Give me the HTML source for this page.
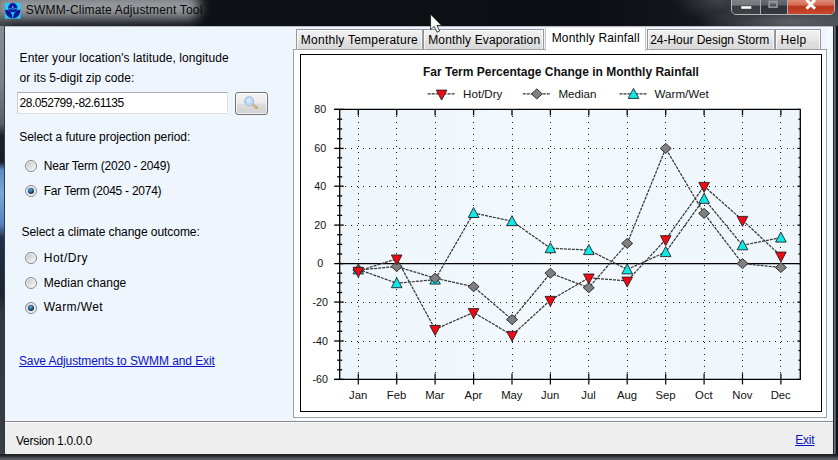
<!DOCTYPE html>
<html><head><meta charset="utf-8"><title>SWMM-Climate Adjustment Tool</title>
<style>
html,body{margin:0;padding:0;}
body{width:838px;height:460px;overflow:hidden;position:relative;background:#0e1116;font-family:"Liberation Sans",sans-serif;font-size:11.5px;color:#000;}
.abs{position:absolute;}
#frame{left:0;top:0;width:838px;height:460px;background:linear-gradient(90deg,#15181d 0,#15181d 833px,#20242a 833px,#20242a 834px,#6c7074 834.3px,#6c7074 835.3px,#0e1216 836px,#0e1216 838px)}
#lstrip{left:0;top:24px;width:4.2px;height:432px;background:linear-gradient(#8a8e93 0,#7c8086 60px,#5a5e64 100px,#1c2026 112px,#1a1e24 138px,#5d8cc6 146px,#79a7d8 170px,#5a80c0 200px,#223048 214px,#1c2430 270px,#34383e 290px,#3a3e44 432px)}
#lstrip2{left:4.2px;top:24px;width:0.9px;height:432px;background:#2a3a4c}
#titlebar{left:0;top:0;width:838px;height:26px;background:linear-gradient(90deg,#3a3f44 0,#1a1d22 14px,#0d1015 220px,#0c0f14 600px,#14171b 700px,#3a3e42 838px)}
#bottom{left:0;top:454px;width:838px;height:6px;background:linear-gradient(#1a1d21 0,#24282c 2px,#52565b 4px,#5a5e63 6px)}
#glow{left:-6px;top:-6px;width:206px;height:25px;border-radius:12px;background:#96999d;filter:blur(6px);}
#client{left:5px;top:26.4px;width:828px;height:427.6px;background:#eef5fd;border-top:1px solid #b9bdc3;box-sizing:border-box}
#status{left:5px;top:421px;width:828px;height:33px;background:#eeeeee;border-top:1px solid #868a90;box-sizing:border-box;box-shadow:inset 0 1px 0 #fafafa}
.t{position:absolute;white-space:nowrap;color:#000;line-height:16px;height:16px}
a.t{color:#0a14c4;text-decoration:underline;text-underline-offset:1px}
.tab{position:absolute;top:29px;height:21px;box-sizing:border-box;border:1px solid #95989e;border-bottom:none;background:linear-gradient(#f1f1f1 0%,#e9e9e9 45%,#dfdfdf 60%,#d8d8d8 100%);box-shadow:inset 1px 1px 0 rgba(255,255,255,.75),inset -1px 0 0 rgba(255,255,255,.75)}
.tab.sel{top:27px;height:24px;background:#fff;z-index:3;box-shadow:none;border-color:#eceef2 #c4c8ce #fff #c4c8ce}
#page{left:293px;top:49px;width:533.8px;height:368.6px;background:#fff;border:1px solid #9da1a8;box-sizing:border-box}
#chart{left:300px;top:54px;width:522px;height:358px;background:#fff;border:1.3px solid #000;box-sizing:border-box}
.ax{font-family:"Liberation Sans",sans-serif;font-size:10.7px;fill:#111}
.lg{font-family:"Liberation Sans",sans-serif;font-size:11.6px;fill:#111}
.tt{font-family:"Liberation Sans",sans-serif;font-size:12px;font-weight:bold;fill:#111}
.radio{position:absolute;width:12px;height:12px;border-radius:50%;border:1px solid #858990;box-sizing:border-box;background:linear-gradient(135deg,#b4b8bc 0%,#dcdee0 45%,#fafafa 100%);box-shadow:inset 0 0 0 1px #f4f5f6}
.radio.on::after{content:"";position:absolute;left:2px;top:2px;width:6px;height:6px;border-radius:50%;background:radial-gradient(circle at 42% 36%,#62b4dc 0,#2a6c9c 35%,#0e2440 75%)}
#inp{left:17px;top:91.5px;width:210.5px;height:22.5px;background:#fff;border:1px solid #dde1e8;border-top-color:#a9adb6;border-left-color:#c8ccd4;box-sizing:border-box}
#btn{left:235px;top:92px;width:33px;height:23px;border:1px solid #70747a;border-radius:3px;box-sizing:border-box;background:linear-gradient(#f3f3f3 0%,#ebebeb 48%,#dddddd 52%,#d1d1d1 100%);box-shadow:inset 0 0 0 1px rgba(255,255,255,.7)}
#caps{left:730.5px;top:-4px;width:104px;height:19px;border:1px solid #b4b8bc;border-radius:0 0 5px 5px;box-sizing:border-box;overflow:hidden;background:#444}
#caps div{position:absolute;top:0;height:18px}
</style></head><body>
<div class="abs" id="frame"></div>
<div class="abs" id="lstrip"></div><div class="abs" id="lstrip2"></div>
<div class="abs" id="titlebar"></div>
<div class="abs" id="bottom"></div>
<div class="abs" style="left:640px;top:0;width:198px;height:26px;background:radial-gradient(ellipse 95px 16px at 150px 22px,rgba(130,135,140,.55),rgba(130,135,140,0) 100%),radial-gradient(ellipse 45px 22px at 78px 0px,rgba(120,125,130,.4),rgba(120,125,130,0) 100%)"></div>
<div class="abs" id="glow"></div>
<svg class="abs" style="left:5px;top:3.3px" width="15.6" height="15.6" viewBox="0 0 16 16"><rect width="16" height="16" fill="#1fd0fb"/><circle cx="8" cy="4.8" r="4.75" fill="#0a179c"/><path d="M0.2 7C4.2 6.5 7.6 9.8 7.65 15.6C3.4 15.8 0.2 12.2 0.2 7Z" fill="#0a179c"/><path d="M15.8 7C11.8 6.5 8.4 9.8 8.35 15.6C12.6 15.8 15.8 12.2 15.8 7Z" fill="#0a179c"/><path d="M3.9 5.5Q8 7.3 12.1 5.5" stroke="#48b4ee" stroke-width="0.9" fill="none"/><path d="M8 2.6L7 4.8H9Z" fill="#7fd4f8"/></svg>
<div class="t" style="left:25.8px;top:2.34px;font-size:12px;letter-spacing:0.173px;color:#0a0a0a;">SWMM-Climate Adjustment Tool</div>
<div class="abs" id="caps">
 <div style="left:0;width:28px;background:linear-gradient(#84888c 0,#74787c 44%,#383c40 52%,#3f4347 100%);border-right:1px solid #a9adb1"></div>
 <div style="left:29px;width:26.5px;background:linear-gradient(#6c7074 0,#5d6165 44%,#2f3337 50%,#373b3f 100%);border-right:1px solid #a9adb1"></div>
 <div style="left:56.5px;width:47px;background:linear-gradient(#e3a08e 0,#d46a52 44%,#b8341c 54%,#cc4c30 100%)"></div>
</div>
<svg class="abs" style="left:730px;top:0" width="108" height="16" viewBox="0 0 108 16"><rect x="11" y="6" width="10.5" height="3" fill="#fff" stroke="#444" stroke-width=".5"/><path d="M38.2 0.6H47.8V8H38.2ZM40 3.2V6.3H46V3.2Z" fill="#8f9397" fill-rule="evenodd"/><path d="M76.5 0L80.7 4.2L85 0M76.5 8.8L80.7 4.6L85 8.8" stroke="#fff" stroke-width="3" fill="none"/></svg>
<div class="abs" id="client"></div>
<div class="abs" style="left:293px;top:417.5px;width:540px;height:4px;background:#f6fafe"></div><div class="abs" style="left:827px;top:27.4px;width:6px;height:394px;background:#f4f9fd"></div>
<div class="abs" id="status"></div>
<div class="t" style="left:19.6px;top:50.14px;font-size:12px;letter-spacing:0.081px;">Enter your location's latitude, longitude</div>
<div class="t" style="left:19.6px;top:69.94px;font-size:12px;letter-spacing:0.057px;">or its 5-digit zip code:</div>
<div class="abs" id="inp"></div>
<div class="t" style="left:19.6px;top:94.84px;font-size:12px;letter-spacing:-0.479px;">28.052799,-82.61135</div>
<div class="abs" id="btn"></div>
<svg class="abs" style="left:240px;top:94px" width="24" height="20" viewBox="0 0 24 20"><path d="M12.4 10L16.4 13.8" stroke="#c49a5a" stroke-width="2.6" stroke-linecap="round"/><path d="M12.8 10.4L16.2 13.6" stroke="#f0dcb8" stroke-width="1" stroke-linecap="round"/><circle cx="9.2" cy="7.2" r="4.5" fill="#bcd6f6" stroke="#a9bedb" stroke-width="1.1"/><circle cx="8.6" cy="6.4" r="2.2" fill="#d4e6fb"/></svg>
<div class="t" style="left:19.2px;top:129.14px;font-size:12px;letter-spacing:-0.051px;">Select a future projection period:</div>
<div class="radio" style="left:24.7px;top:160.4px"></div>
<div class="t" style="left:43.8px;top:157.74px;font-size:12px;letter-spacing:-0.218px;">Near Term (2020 - 2049)</div>
<div class="radio on" style="left:24.7px;top:184.8px"></div>
<div class="t" style="left:43.8px;top:182.54px;font-size:12px;letter-spacing:-0.256px;">Far Term (2045 - 2074)</div>
<div class="t" style="left:21.5px;top:223.84px;font-size:12px;letter-spacing:-0.058px;">Select a climate change outcome:</div>
<div class="radio" style="left:24.5px;top:251.8px"></div>
<div class="t" style="left:43.8px;top:249.54px;font-size:12px;letter-spacing:0.488px;">Hot/Dry</div>
<div class="radio" style="left:24.5px;top:277.2px"></div>
<div class="t" style="left:43.8px;top:274.54px;font-size:12px;letter-spacing:0.036px;">Median change</div>
<div class="radio on" style="left:24.5px;top:302.2px"></div>
<div class="t" style="left:43.8px;top:299.14px;font-size:12px;letter-spacing:0.414px;">Warm/Wet</div>
<a class="t" style="left:18.9px;top:352.64px;font-size:12px;letter-spacing:-0.086px;">Save Adjustments to SWMM and Exit</a>
<div class="t" style="left:16.0px;top:432.74px;font-size:12px;letter-spacing:-0.283px;">Version 1.0.0.0</div>
<a class="t" style="left:795.2px;top:431.64px;font-size:12px;letter-spacing:-0.205px;">Exit</a>
<div class="tab" style="left:295.5px;width:127.5px"></div>
<div class="tab" style="left:423px;width:121px"></div>
<div class="tab sel" style="left:545px;width:100.5px"></div>
<div class="tab" style="left:646.5px;width:128px"></div>
<div class="tab" style="left:775px;width:46px"></div>
<div class="abs" id="page"></div>
<div class="abs" style="left:546px;top:48px;width:98.5px;height:3px;background:#fff;z-index:4"></div>
<div class="abs" id="chart"></div>
<div style="position:absolute;left:0;top:0;z-index:5">
<div class="t" style="left:300.8px;top:31.74px;font-size:12px;letter-spacing:0.250px;">Monthly Temperature</div>
<div class="t" style="left:428.2px;top:31.74px;font-size:12px;letter-spacing:0.139px;">Monthly Evaporation</div>
<div class="t" style="left:551.7px;top:30.24px;font-size:12px;letter-spacing:0.168px;">Monthly Rainfall</div>
<div class="t" style="left:650.2px;top:31.74px;font-size:12px;letter-spacing:-0.021px;">24-Hour Design Storm</div>
<div class="t" style="left:780.6px;top:31.74px;font-size:12px;letter-spacing:0.337px;">Help</div>
</div>
<svg width="838" height="460" viewBox="0 0 838 460" style="position:absolute;left:0;top:0">
<defs><linearGradient id="pg" x1="0" y1="0" x2="1" y2="0"><stop offset="0" stop-color="#eef6fc"/><stop offset="0.5" stop-color="#f3f9fd"/><stop offset="1" stop-color="#eef6fc"/></linearGradient></defs>
<rect x="339.7" y="109.4" width="460.59999999999997" height="270.0" fill="url(#pg)"/>
<line x1="345.07" y1="148.4" x2="800.3" y2="148.4" stroke="#1c1c1c" stroke-width="1" stroke-dasharray="1 4.97" shape-rendering="crispEdges"/>
<line x1="345.07" y1="186.2" x2="800.3" y2="186.2" stroke="#1c1c1c" stroke-width="1" stroke-dasharray="1 4.97" shape-rendering="crispEdges"/>
<line x1="345.07" y1="225.1" x2="800.3" y2="225.1" stroke="#1c1c1c" stroke-width="1" stroke-dasharray="1 4.97" shape-rendering="crispEdges"/>
<line x1="345.07" y1="302.1" x2="800.3" y2="302.1" stroke="#1c1c1c" stroke-width="1" stroke-dasharray="1 4.97" shape-rendering="crispEdges"/>
<line x1="345.07" y1="341.0" x2="800.3" y2="341.0" stroke="#1c1c1c" stroke-width="1" stroke-dasharray="1 4.97" shape-rendering="crispEdges"/>
<line x1="358.3" y1="372.84999999999997" x2="358.3" y2="114.4" stroke="#1c1c1c" stroke-width="1" stroke-dasharray="1 4.95" shape-rendering="crispEdges"/>
<line x1="396.7" y1="372.84999999999997" x2="396.7" y2="114.4" stroke="#1c1c1c" stroke-width="1" stroke-dasharray="1 4.95" shape-rendering="crispEdges"/>
<line x1="435.1" y1="372.84999999999997" x2="435.1" y2="114.4" stroke="#1c1c1c" stroke-width="1" stroke-dasharray="1 4.95" shape-rendering="crispEdges"/>
<line x1="473.6" y1="372.84999999999997" x2="473.6" y2="114.4" stroke="#1c1c1c" stroke-width="1" stroke-dasharray="1 4.95" shape-rendering="crispEdges"/>
<line x1="512.0" y1="372.84999999999997" x2="512.0" y2="114.4" stroke="#1c1c1c" stroke-width="1" stroke-dasharray="1 4.95" shape-rendering="crispEdges"/>
<line x1="550.4" y1="372.84999999999997" x2="550.4" y2="114.4" stroke="#1c1c1c" stroke-width="1" stroke-dasharray="1 4.95" shape-rendering="crispEdges"/>
<line x1="588.8" y1="372.84999999999997" x2="588.8" y2="114.4" stroke="#1c1c1c" stroke-width="1" stroke-dasharray="1 4.95" shape-rendering="crispEdges"/>
<line x1="627.2" y1="372.84999999999997" x2="627.2" y2="114.4" stroke="#1c1c1c" stroke-width="1" stroke-dasharray="1 4.95" shape-rendering="crispEdges"/>
<line x1="665.7" y1="372.84999999999997" x2="665.7" y2="114.4" stroke="#1c1c1c" stroke-width="1" stroke-dasharray="1 4.95" shape-rendering="crispEdges"/>
<line x1="704.1" y1="372.84999999999997" x2="704.1" y2="114.4" stroke="#1c1c1c" stroke-width="1" stroke-dasharray="1 4.95" shape-rendering="crispEdges"/>
<line x1="742.5" y1="372.84999999999997" x2="742.5" y2="114.4" stroke="#1c1c1c" stroke-width="1" stroke-dasharray="1 4.95" shape-rendering="crispEdges"/>
<line x1="780.9" y1="372.84999999999997" x2="780.9" y2="114.4" stroke="#1c1c1c" stroke-width="1" stroke-dasharray="1 4.95" shape-rendering="crispEdges"/>
<path d="M334.2 109.4H800.3V379.4H334.2M339.7 109.4V379.4" fill="none" stroke="#000" stroke-width="1.3"/>
<line x1="339.7" y1="263.6" x2="800.3" y2="263.6" stroke="#000" stroke-width="1.2"/>
<line x1="334.2" y1="109.4" x2="343.7" y2="109.4" stroke="#000" stroke-width="1.3"/>
<line x1="797.3" y1="109.4" x2="800.3" y2="109.4" stroke="#000" stroke-width="1.2"/>
<line x1="337.2" y1="119.2" x2="342.2" y2="119.2" stroke="#000" stroke-width="1.3"/>
<line x1="798.3" y1="119.2" x2="800.3" y2="119.2" stroke="#000" stroke-width="1.1"/>
<line x1="337.2" y1="128.9" x2="342.2" y2="128.9" stroke="#000" stroke-width="1.3"/>
<line x1="798.3" y1="128.9" x2="800.3" y2="128.9" stroke="#000" stroke-width="1.1"/>
<line x1="337.2" y1="138.7" x2="342.2" y2="138.7" stroke="#000" stroke-width="1.3"/>
<line x1="798.3" y1="138.7" x2="800.3" y2="138.7" stroke="#000" stroke-width="1.1"/>
<line x1="334.2" y1="148.4" x2="343.7" y2="148.4" stroke="#000" stroke-width="1.3"/>
<line x1="797.3" y1="148.4" x2="800.3" y2="148.4" stroke="#000" stroke-width="1.2"/>
<line x1="337.2" y1="157.8" x2="342.2" y2="157.8" stroke="#000" stroke-width="1.3"/>
<line x1="798.3" y1="157.8" x2="800.3" y2="157.8" stroke="#000" stroke-width="1.1"/>
<line x1="337.2" y1="167.3" x2="342.2" y2="167.3" stroke="#000" stroke-width="1.3"/>
<line x1="798.3" y1="167.3" x2="800.3" y2="167.3" stroke="#000" stroke-width="1.1"/>
<line x1="337.2" y1="176.8" x2="342.2" y2="176.8" stroke="#000" stroke-width="1.3"/>
<line x1="798.3" y1="176.8" x2="800.3" y2="176.8" stroke="#000" stroke-width="1.1"/>
<line x1="334.2" y1="186.2" x2="343.7" y2="186.2" stroke="#000" stroke-width="1.3"/>
<line x1="797.3" y1="186.2" x2="800.3" y2="186.2" stroke="#000" stroke-width="1.2"/>
<line x1="337.2" y1="195.9" x2="342.2" y2="195.9" stroke="#000" stroke-width="1.3"/>
<line x1="798.3" y1="195.9" x2="800.3" y2="195.9" stroke="#000" stroke-width="1.1"/>
<line x1="337.2" y1="205.6" x2="342.2" y2="205.6" stroke="#000" stroke-width="1.3"/>
<line x1="798.3" y1="205.6" x2="800.3" y2="205.6" stroke="#000" stroke-width="1.1"/>
<line x1="337.2" y1="215.4" x2="342.2" y2="215.4" stroke="#000" stroke-width="1.3"/>
<line x1="798.3" y1="215.4" x2="800.3" y2="215.4" stroke="#000" stroke-width="1.1"/>
<line x1="334.2" y1="225.1" x2="343.7" y2="225.1" stroke="#000" stroke-width="1.3"/>
<line x1="797.3" y1="225.1" x2="800.3" y2="225.1" stroke="#000" stroke-width="1.2"/>
<line x1="337.2" y1="234.7" x2="342.2" y2="234.7" stroke="#000" stroke-width="1.3"/>
<line x1="798.3" y1="234.7" x2="800.3" y2="234.7" stroke="#000" stroke-width="1.1"/>
<line x1="337.2" y1="244.4" x2="342.2" y2="244.4" stroke="#000" stroke-width="1.3"/>
<line x1="798.3" y1="244.4" x2="800.3" y2="244.4" stroke="#000" stroke-width="1.1"/>
<line x1="337.2" y1="254.0" x2="342.2" y2="254.0" stroke="#000" stroke-width="1.3"/>
<line x1="798.3" y1="254.0" x2="800.3" y2="254.0" stroke="#000" stroke-width="1.1"/>
<line x1="334.2" y1="263.6" x2="343.7" y2="263.6" stroke="#000" stroke-width="1.3"/>
<line x1="797.3" y1="263.6" x2="800.3" y2="263.6" stroke="#000" stroke-width="1.2"/>
<line x1="337.2" y1="273.2" x2="342.2" y2="273.2" stroke="#000" stroke-width="1.3"/>
<line x1="798.3" y1="273.2" x2="800.3" y2="273.2" stroke="#000" stroke-width="1.1"/>
<line x1="337.2" y1="282.9" x2="342.2" y2="282.9" stroke="#000" stroke-width="1.3"/>
<line x1="798.3" y1="282.9" x2="800.3" y2="282.9" stroke="#000" stroke-width="1.1"/>
<line x1="337.2" y1="292.5" x2="342.2" y2="292.5" stroke="#000" stroke-width="1.3"/>
<line x1="798.3" y1="292.5" x2="800.3" y2="292.5" stroke="#000" stroke-width="1.1"/>
<line x1="334.2" y1="302.1" x2="343.7" y2="302.1" stroke="#000" stroke-width="1.3"/>
<line x1="797.3" y1="302.1" x2="800.3" y2="302.1" stroke="#000" stroke-width="1.2"/>
<line x1="337.2" y1="311.8" x2="342.2" y2="311.8" stroke="#000" stroke-width="1.3"/>
<line x1="798.3" y1="311.8" x2="800.3" y2="311.8" stroke="#000" stroke-width="1.1"/>
<line x1="337.2" y1="321.6" x2="342.2" y2="321.6" stroke="#000" stroke-width="1.3"/>
<line x1="798.3" y1="321.6" x2="800.3" y2="321.6" stroke="#000" stroke-width="1.1"/>
<line x1="337.2" y1="331.3" x2="342.2" y2="331.3" stroke="#000" stroke-width="1.3"/>
<line x1="798.3" y1="331.3" x2="800.3" y2="331.3" stroke="#000" stroke-width="1.1"/>
<line x1="334.2" y1="341.0" x2="343.7" y2="341.0" stroke="#000" stroke-width="1.3"/>
<line x1="797.3" y1="341.0" x2="800.3" y2="341.0" stroke="#000" stroke-width="1.2"/>
<line x1="337.2" y1="350.6" x2="342.2" y2="350.6" stroke="#000" stroke-width="1.3"/>
<line x1="798.3" y1="350.6" x2="800.3" y2="350.6" stroke="#000" stroke-width="1.1"/>
<line x1="337.2" y1="360.2" x2="342.2" y2="360.2" stroke="#000" stroke-width="1.3"/>
<line x1="798.3" y1="360.2" x2="800.3" y2="360.2" stroke="#000" stroke-width="1.1"/>
<line x1="337.2" y1="369.8" x2="342.2" y2="369.8" stroke="#000" stroke-width="1.3"/>
<line x1="798.3" y1="369.8" x2="800.3" y2="369.8" stroke="#000" stroke-width="1.1"/>
<line x1="334.2" y1="379.4" x2="343.7" y2="379.4" stroke="#000" stroke-width="1.3"/>
<line x1="797.3" y1="379.4" x2="800.3" y2="379.4" stroke="#000" stroke-width="1.2"/>
<line x1="358.3" y1="109.4" x2="358.3" y2="115.4" stroke="#000" stroke-width="1.3"/>
<line x1="358.3" y1="373.4" x2="358.3" y2="384.4" stroke="#000" stroke-width="1.2"/>
<line x1="396.7" y1="109.4" x2="396.7" y2="115.4" stroke="#000" stroke-width="1.3"/>
<line x1="396.7" y1="373.4" x2="396.7" y2="384.4" stroke="#000" stroke-width="1.2"/>
<line x1="435.1" y1="109.4" x2="435.1" y2="115.4" stroke="#000" stroke-width="1.3"/>
<line x1="435.1" y1="373.4" x2="435.1" y2="384.4" stroke="#000" stroke-width="1.2"/>
<line x1="473.6" y1="109.4" x2="473.6" y2="115.4" stroke="#000" stroke-width="1.3"/>
<line x1="473.6" y1="373.4" x2="473.6" y2="384.4" stroke="#000" stroke-width="1.2"/>
<line x1="512.0" y1="109.4" x2="512.0" y2="115.4" stroke="#000" stroke-width="1.3"/>
<line x1="512.0" y1="373.4" x2="512.0" y2="384.4" stroke="#000" stroke-width="1.2"/>
<line x1="550.4" y1="109.4" x2="550.4" y2="115.4" stroke="#000" stroke-width="1.3"/>
<line x1="550.4" y1="373.4" x2="550.4" y2="384.4" stroke="#000" stroke-width="1.2"/>
<line x1="588.8" y1="109.4" x2="588.8" y2="115.4" stroke="#000" stroke-width="1.3"/>
<line x1="588.8" y1="373.4" x2="588.8" y2="384.4" stroke="#000" stroke-width="1.2"/>
<line x1="627.2" y1="109.4" x2="627.2" y2="115.4" stroke="#000" stroke-width="1.3"/>
<line x1="627.2" y1="373.4" x2="627.2" y2="384.4" stroke="#000" stroke-width="1.2"/>
<line x1="665.7" y1="109.4" x2="665.7" y2="115.4" stroke="#000" stroke-width="1.3"/>
<line x1="665.7" y1="373.4" x2="665.7" y2="384.4" stroke="#000" stroke-width="1.2"/>
<line x1="704.1" y1="109.4" x2="704.1" y2="115.4" stroke="#000" stroke-width="1.3"/>
<line x1="704.1" y1="373.4" x2="704.1" y2="384.4" stroke="#000" stroke-width="1.2"/>
<line x1="742.5" y1="109.4" x2="742.5" y2="115.4" stroke="#000" stroke-width="1.3"/>
<line x1="742.5" y1="373.4" x2="742.5" y2="384.4" stroke="#000" stroke-width="1.2"/>
<line x1="780.9" y1="109.4" x2="780.9" y2="115.4" stroke="#000" stroke-width="1.3"/>
<line x1="780.9" y1="373.4" x2="780.9" y2="384.4" stroke="#000" stroke-width="1.2"/>
<text x="320.2" y="113.2" text-anchor="middle" class="ax">80</text>
<text x="320.2" y="152.2" text-anchor="middle" class="ax">60</text>
<text x="320.2" y="190.0" text-anchor="middle" class="ax">40</text>
<text x="320.2" y="228.9" text-anchor="middle" class="ax">20</text>
<text x="320.2" y="267.4" text-anchor="middle" class="ax">0</text>
<text x="320.2" y="305.9" text-anchor="middle" class="ax">-20</text>
<text x="320.2" y="344.8" text-anchor="middle" class="ax">-40</text>
<text x="320.2" y="383.2" text-anchor="middle" class="ax">-60</text>
<text x="358.1" y="398.6" text-anchor="middle" class="ax" style="font-size:11.3px">Jan</text>
<text x="396.5" y="398.6" text-anchor="middle" class="ax" style="font-size:11.3px">Feb</text>
<text x="434.9" y="398.6" text-anchor="middle" class="ax" style="font-size:11.3px">Mar</text>
<text x="473.4" y="398.6" text-anchor="middle" class="ax" style="font-size:11.3px">Apr</text>
<text x="511.8" y="398.6" text-anchor="middle" class="ax" style="font-size:11.3px">May</text>
<text x="550.2" y="398.6" text-anchor="middle" class="ax" style="font-size:11.3px">Jun</text>
<text x="588.6" y="398.6" text-anchor="middle" class="ax" style="font-size:11.3px">Jul</text>
<text x="627.0" y="398.6" text-anchor="middle" class="ax" style="font-size:11.3px">Aug</text>
<text x="665.5" y="398.6" text-anchor="middle" class="ax" style="font-size:11.3px">Sep</text>
<text x="703.9" y="398.6" text-anchor="middle" class="ax" style="font-size:11.3px">Oct</text>
<text x="742.3" y="398.6" text-anchor="middle" class="ax" style="font-size:11.3px">Nov</text>
<text x="780.7" y="398.6" text-anchor="middle" class="ax" style="font-size:11.3px">Dec</text>
<polyline points="358.3,269.4 396.7,283.2 435.1,279.6 473.6,213.0 512.0,221.2 550.4,248.2 588.8,250.1 627.2,269.4 665.7,252.1 704.1,198.8 742.5,245.3 780.9,237.6" fill="none" stroke="#383838" stroke-width="1.25" stroke-dasharray="3 1"/>
<polyline points="358.3,270.0 396.7,266.5 435.1,278.2 473.6,286.7 512.0,319.6 550.4,273.2 588.8,287.7 627.2,243.4 665.7,148.4 704.1,213.4 742.5,263.6 780.9,267.5" fill="none" stroke="#383838" stroke-width="1.25" stroke-dasharray="3 1"/>
<polyline points="358.3,271.1 396.7,258.8 435.1,329.3 473.6,312.4 512.0,335.2 550.4,300.2 588.8,277.8 627.2,280.9 665.7,239.5 704.1,186.2 742.5,220.2 780.9,255.9" fill="none" stroke="#383838" stroke-width="1.25" stroke-dasharray="3 1"/>
<path d="M353.0 273.9H363.6L358.3 263.9Z" fill="#10e8e8" stroke="#222" stroke-width="0.9"/>
<path d="M391.4 287.7H402.0L396.7 277.7Z" fill="#10e8e8" stroke="#222" stroke-width="0.9"/>
<path d="M429.8 284.1H440.4L435.1 274.1Z" fill="#10e8e8" stroke="#222" stroke-width="0.9"/>
<path d="M468.3 217.5H478.9L473.6 207.5Z" fill="#10e8e8" stroke="#222" stroke-width="0.9"/>
<path d="M506.7 225.7H517.3L512.0 215.7Z" fill="#10e8e8" stroke="#222" stroke-width="0.9"/>
<path d="M545.1 252.7H555.7L550.4 242.7Z" fill="#10e8e8" stroke="#222" stroke-width="0.9"/>
<path d="M583.5 254.6H594.1L588.8 244.6Z" fill="#10e8e8" stroke="#222" stroke-width="0.9"/>
<path d="M621.9 273.9H632.5L627.2 263.9Z" fill="#10e8e8" stroke="#222" stroke-width="0.9"/>
<path d="M660.4 256.6H671.0L665.7 246.6Z" fill="#10e8e8" stroke="#222" stroke-width="0.9"/>
<path d="M698.8 203.3H709.4L704.1 193.3Z" fill="#10e8e8" stroke="#222" stroke-width="0.9"/>
<path d="M737.2 249.8H747.8L742.5 239.8Z" fill="#10e8e8" stroke="#222" stroke-width="0.9"/>
<path d="M775.6 242.1H786.2L780.9 232.1Z" fill="#10e8e8" stroke="#222" stroke-width="0.9"/>
<path d="M352.8 270.0L358.3 265.0L363.8 270.0L358.3 275.0Z" fill="#808080" stroke="#222" stroke-width="0.9"/>
<path d="M391.2 266.5L396.7 261.5L402.2 266.5L396.7 271.5Z" fill="#808080" stroke="#222" stroke-width="0.9"/>
<path d="M429.6 278.2L435.1 273.2L440.6 278.2L435.1 283.2Z" fill="#808080" stroke="#222" stroke-width="0.9"/>
<path d="M468.1 286.7L473.6 281.7L479.1 286.7L473.6 291.7Z" fill="#808080" stroke="#222" stroke-width="0.9"/>
<path d="M506.5 319.6L512.0 314.6L517.5 319.6L512.0 324.6Z" fill="#808080" stroke="#222" stroke-width="0.9"/>
<path d="M544.9 273.2L550.4 268.2L555.9 273.2L550.4 278.2Z" fill="#808080" stroke="#222" stroke-width="0.9"/>
<path d="M583.3 287.7L588.8 282.7L594.3 287.7L588.8 292.7Z" fill="#808080" stroke="#222" stroke-width="0.9"/>
<path d="M621.7 243.4L627.2 238.4L632.7 243.4L627.2 248.4Z" fill="#808080" stroke="#222" stroke-width="0.9"/>
<path d="M660.2 148.4L665.7 143.4L671.2 148.4L665.7 153.4Z" fill="#808080" stroke="#222" stroke-width="0.9"/>
<path d="M698.6 213.4L704.1 208.4L709.6 213.4L704.1 218.4Z" fill="#808080" stroke="#222" stroke-width="0.9"/>
<path d="M737.0 263.6L742.5 258.6L748.0 263.6L742.5 268.6Z" fill="#808080" stroke="#222" stroke-width="0.9"/>
<path d="M775.4 267.5L780.9 262.5L786.4 267.5L780.9 272.5Z" fill="#808080" stroke="#222" stroke-width="0.9"/>
<path d="M353.0 267.3H363.6L358.3 277.3Z" fill="#f00814" stroke="#222" stroke-width="0.9"/>
<path d="M391.4 255.0H402.0L396.7 265.0Z" fill="#f00814" stroke="#222" stroke-width="0.9"/>
<path d="M429.8 325.5H440.4L435.1 335.5Z" fill="#f00814" stroke="#222" stroke-width="0.9"/>
<path d="M468.3 308.6H478.9L473.6 318.6Z" fill="#f00814" stroke="#222" stroke-width="0.9"/>
<path d="M506.7 331.4H517.3L512.0 341.4Z" fill="#f00814" stroke="#222" stroke-width="0.9"/>
<path d="M545.1 296.4H555.7L550.4 306.4Z" fill="#f00814" stroke="#222" stroke-width="0.9"/>
<path d="M583.5 274.0H594.1L588.8 284.0Z" fill="#f00814" stroke="#222" stroke-width="0.9"/>
<path d="M621.9 277.1H632.5L627.2 287.1Z" fill="#f00814" stroke="#222" stroke-width="0.9"/>
<path d="M660.4 235.7H671.0L665.7 245.7Z" fill="#f00814" stroke="#222" stroke-width="0.9"/>
<path d="M698.8 182.4H709.4L704.1 192.4Z" fill="#f00814" stroke="#222" stroke-width="0.9"/>
<path d="M737.2 216.4H747.8L742.5 226.4Z" fill="#f00814" stroke="#222" stroke-width="0.9"/>
<path d="M775.6 252.1H786.2L780.9 262.1Z" fill="#f00814" stroke="#222" stroke-width="0.9"/>
<line x1="427.6" y1="93.9" x2="454.6" y2="93.9" stroke="#333" stroke-width="1.2" stroke-dasharray="3 1"/>
<path d="M436.3 90.1H446.9L441.6 100.1Z" fill="#f00814" stroke="#222" stroke-width="0.9"/>
<text x="463.1" y="97.8" class="lg">Hot/Dry</text>
<line x1="522.8" y1="93.9" x2="549.8" y2="93.9" stroke="#333" stroke-width="1.2" stroke-dasharray="3 1"/>
<path d="M531.3 93.9L536.8 88.9L542.3 93.9L536.8 98.9Z" fill="#808080" stroke="#222" stroke-width="0.9"/>
<text x="558.4" y="97.8" class="lg">Median</text>
<line x1="619.5" y1="93.9" x2="646.5" y2="93.9" stroke="#333" stroke-width="1.2" stroke-dasharray="3 1"/>
<path d="M628.2 98.4H638.8L633.5 88.4Z" fill="#10e8e8" stroke="#222" stroke-width="0.9"/>
<text x="654.6" y="97.8" class="lg">Warm/Wet</text>
<text x="560.9" y="75.9" text-anchor="middle" class="tt">Far Term Percentage Change in Monthly Rainfall</text>
<path d="M430.6 14.2V29.6L434.2 26.3L436.9 32.2L439.6 31L436.9 25.4H441.6Z" fill="#fff" stroke="#1a1a1a" stroke-width="0.8" stroke-linejoin="round"/>
</svg>
</body></html>
